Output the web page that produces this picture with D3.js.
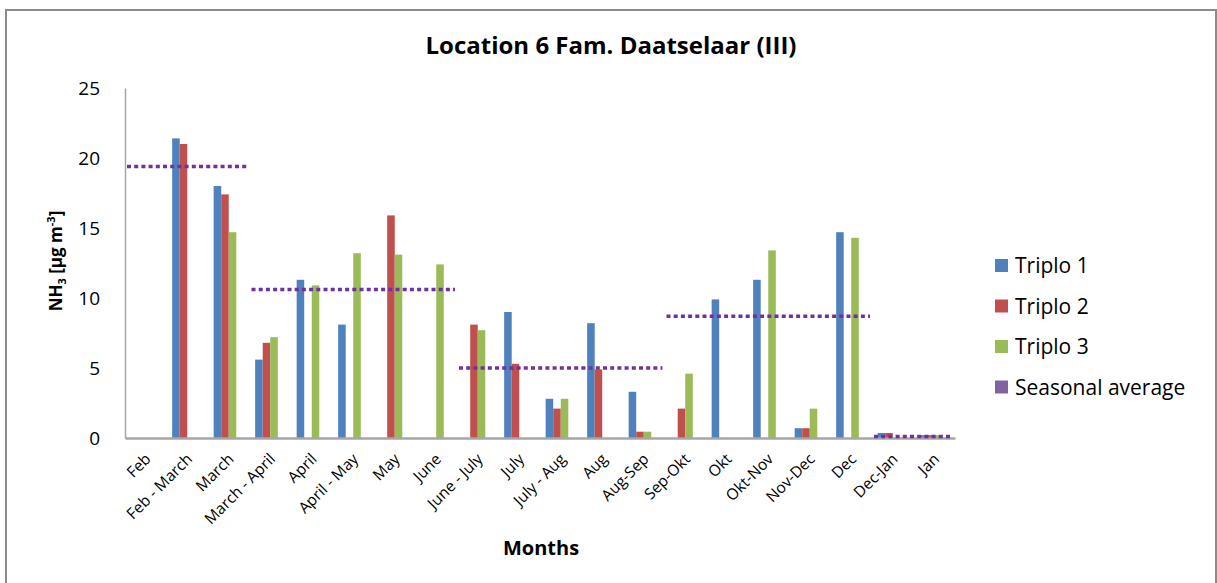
<!DOCTYPE html>
<html>
<head>
<meta charset="utf-8">
<script src="https://cdn.jsdelivr.net/npm/d3@7"></script>
<style>
  body { margin: 0; background: #fff; }
  text { font-family: "Open Sans", sans-serif; fill: #000; }
</style>
</head>
<body>
<svg id="chart" width="1217" height="583"></svg>
<script>
// ---- data ----
const categories = ["Feb", "Feb - March", "March", "March - April", "April", "April - May", "May", "June",
  "June - July", "July", "July - Aug", "Aug", "Aug-Sep", "Sep-Okt", "Okt", "Okt-Nov", "Nov-Dec", "Dec", "Dec-Jan", "Jan"];
const seriesNames = ["Triplo 1", "Triplo 2", "Triplo 3", "Seasonal average"];
const triplo1 = [null, 21.4, 18.0, 5.6, 11.3, 8.1, null, null, null, 9.0, 2.8, 8.2, 3.3, null, 9.9, 11.3, 0.7, 14.7, 0.36, 0.2];
const triplo2 = [null, 21.0, 17.4, 6.8, null, null, 15.9, null, 8.1, 5.3, 2.1, 4.9, 0.45, 2.1, null, null, 0.7, null, 0.36, 0.2];
const triplo3 = [null, null, 14.7, 7.2, 10.9, 13.2, 13.1, 12.4, 7.7, null, 2.8, null, 0.45, 4.6, null, 13.4, 2.1, 14.3, null, 0.2];
const seasonValues = [19.4, 10.6, 5.0, 8.7, 0.1];
const seasonFrom = ["Feb", "March - April", "June - July", "Sep-Okt", "Dec-Jan"];
const seasonTo = ["March", "June", "Aug-Sep", "Dec", "Jan"];
const yTicks = [0, 5, 10, 15, 20, 25];

const colors = ["#4F81BD", "#C0504D", "#9BBB59", "#8064A2"];
const seasonLineColor = "#7030A0";

const svg = d3.select("#chart");

// outer frame
svg.append("rect").attr("x", 6).attr("y", 10).attr("width", 1210).attr("height", 590)
  .attr("fill", "none").attr("stroke", "#8c8c8c").attr("stroke-width", 2);

const mLeft = 125, mRight = 955, mTop = 88, mBottom = 438;

const x0 = d3.scaleBand().domain(categories).range([mLeft, mRight]).padding(0);
const x1 = d3.scaleBand().domain(seriesNames).range([0, x0.bandwidth()]).paddingInner(0).paddingOuter(0.75);
const y = d3.scaleLinear().domain([0, 25]).range([mBottom, mTop]);

// title
svg.append("text").attr("x", 611).attr("y", 54).attr("text-anchor", "middle")
  .style("font-size", "24px").style("font-weight", "bold").text("Location 6 Fam. Daatselaar (III)");

// bars
const seriesData = [triplo1, triplo2, triplo3];
seriesData.forEach((vals, si) => {
  svg.append("g").selectAll("rect")
    .data(vals.map((v, i) => ({ cat: categories[i], v })).filter(d => d.v !== null))
    .join("rect")
    .attr("x", d => x0(d.cat) + x1(seriesNames[si]))
    .attr("width", x1.bandwidth())
    .attr("y", d => y(d.v))
    .attr("height", d => y(0) - y(d.v))
    .attr("fill", colors[si]);
});

// axes
const yAxis = d3.axisLeft(y).tickValues(yTicks).tickSize(0).tickPadding(25);
const gy = svg.append("g").attr("transform", `translate(${mLeft},0)`).call(yAxis);
gy.select(".domain").attr("stroke", "#a6a6a6").attr("stroke-width", 1.5);
gy.selectAll("text").style("font-size", "19px").style("font-family", "'Open Sans', sans-serif");

const xAxis = d3.axisBottom(x0).tickSize(0).tickPadding(0);
const gx = svg.append("g").attr("transform", `translate(0,${mBottom})`).call(xAxis);
gx.select(".domain").attr("stroke", "#a6a6a6").attr("stroke-width", 2.5);
gx.selectAll("text")
  .style("font-size", "15.5px").style("font-family", "'Open Sans', sans-serif")
  .attr("text-anchor", "end")
  .attr("dy", "0")
  .attr("transform", "translate(6,22) rotate(-45)");

// seasonal averages (dotted)
svg.append("g").selectAll("line")
  .data(seasonValues.map((v, i) => ({ v, from: seasonFrom[i], to: seasonTo[i] })))
  .join("line")
  .attr("x1", d => x0(d.from) + 2)
  .attr("x2", d => x0(d.to) + x0.bandwidth() - 2)
  .attr("y1", d => y(d.v))
  .attr("y2", d => y(d.v))
  .attr("stroke", seasonLineColor)
  .attr("stroke-width", 3.5)
  .attr("stroke-dasharray", "4,3.2");

// axis titles
svg.append("text").attr("x", 541).attr("y", 555).attr("text-anchor", "middle")
  .style("font-size", "20px").style("font-weight", "bold").text("Months");

const yl = svg.append("text").attr("transform", "translate(62,261) rotate(-90)")
  .attr("text-anchor", "middle").style("font-size", "17px").style("font-weight", "bold");
yl.append("tspan").text("NH");
yl.append("tspan").attr("dy", 4).style("font-size", "11px").text("3");
yl.append("tspan").attr("dy", -4).text(" [µg m");
yl.append("tspan").attr("dy", -7).style("font-size", "11px").text("-3");
yl.append("tspan").attr("dy", 7).text("]");

// legend
const lg = svg.append("g").selectAll("g").data(seriesNames).join("g")
  .attr("transform", (d, i) => `translate(995,${259 + i * 40.5})`);
lg.append("rect").attr("width", 13).attr("height", 13).attr("fill", (d, i) => colors[i]);
lg.append("text").attr("x", 20).attr("y", 14).style("font-size", "21px").text(d => d);
</script>
</body>
</html>
